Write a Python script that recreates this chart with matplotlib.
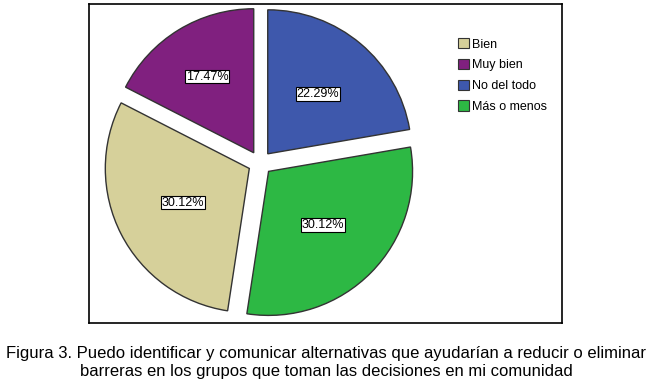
import matplotlib
matplotlib.use('Agg')
import numpy as np
import matplotlib.pyplot as plt
from matplotlib.patches import Patch

plt.rcParams['font.family'] = ['Liberation Sans', 'DejaVu Sans']

# pie order (clockwise from 12 o'clock)
categories = ['No del todo', 'Más o menos', 'Bien', 'Muy bien']
percents = [22.29, 30.12, 30.12, 17.47]
colors = ['#3e58ac', '#2db844', '#d6d09a', '#80207f']
legend_order = ['Bien', 'Muy bien', 'No del todo', 'Más o menos']

caption = ('Figura 3. Puedo identificar y comunicar alternativas que ayudarían a reducir o eliminar\n'
           'barreras en los grupos que toman las decisiones en mi comunidad')

W, H = 652, 383
fig = plt.figure(figsize=(W / 100, H / 100), dpi=100)

# frame box in pixel coordinates
x0, y0, x1, y1 = 89, 4, 562, 323
ax = fig.add_axes([x0 / W, 1 - y1 / H, (x1 - x0) / W, (y1 - y0) / H])

r = 144
wedges, texts, autotexts = ax.pie(
    percents, colors=colors, startangle=90, counterclock=False,
    explode=[12] * 4, radius=r, center=(260 - x0, y1 - 163),
    autopct='%.2f%%', pctdistance=0.55, frame=True,
    wedgeprops=dict(edgecolor='#333333', linewidth=1.0),
    textprops=dict(fontsize=9, color='black'))

# label distances (fraction of radius) per slice
label_dist = [0.54, 0.53, 0.52, 0.62]
for w, t, d in zip(wedges, autotexts, label_dist):
    tm = np.deg2rad((w.theta1 + w.theta2) / 2)
    cx, cy = w.center
    t.set_position((cx + d * r * np.cos(tm), cy + d * r * np.sin(tm)))
    t.set_bbox(dict(facecolor='white', edgecolor='black', linewidth=0.8, pad=0.6))

ax.set_xlim(0, x1 - x0)
ax.set_ylim(0, y1 - y0)
ax.set_aspect('auto')
ax.set_xticks([])
ax.set_yticks([])
for s in ax.spines.values():
    s.set_linewidth(1.2)

handles = [Patch(facecolor=colors[categories.index(c)], edgecolor='#333333', linewidth=0.8)
           for c in legend_order]
fig.legend(handles, legend_order, loc='upper left', bbox_to_anchor=(458 / W, 1 - 38 / H),
           frameon=False, fontsize=9, handlelength=0.9, handleheight=0.9,
           handletextpad=0.25, labelspacing=0.66, borderpad=0, borderaxespad=0)

fig.text(0.5, 1 - 362.5 / H, caption, ha='center', va='center', fontsize=12,
         linespacing=1.3)

fig.savefig('out.png', dpi=100)
